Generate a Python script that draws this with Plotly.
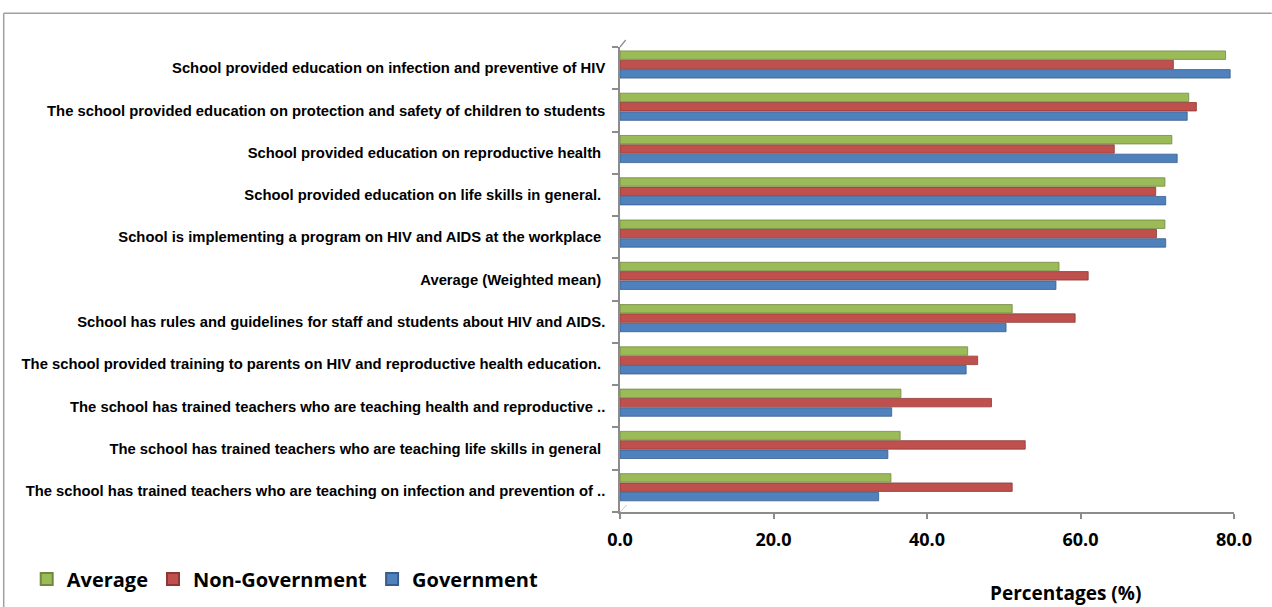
import plotly.graph_objects as go

# ---------------- data ----------------
categories = [
    "School provided education on infection and preventive of HIV",
    "The school provided education on protection and safety of children to students",
    "School provided education on reproductive health\u00a0",
    "School provided education on life skills in general.\u00a0",
    "School is implementing a program on HIV and AIDS at the workplace\u00a0",
    "Average (Weighted mean)\u00a0",
    "School has rules and guidelines for staff and students about HIV and AIDS.",
    "The school provided training to parents on HIV and reproductive health education.\u00a0",
    "The school has trained teachers who are teaching health and reproductive ..",
    "The school has trained teachers who are teaching life skills in general\u00a0",
    "The school has trained teachers who are teaching on infection and prevention of ..",
]
average = [78.9, 74.1, 71.9, 71.0, 71.0, 57.2, 51.1, 45.3, 36.6, 36.5, 35.3]
non_government = [72.1, 75.1, 64.4, 69.8, 69.9, 61.0, 59.3, 46.6, 48.4, 52.8, 51.1]
government = [79.5, 73.9, 72.6, 71.1, 71.1, 56.8, 50.3, 45.1, 35.4, 34.9, 33.7]
series_names = ["Government", "Non-Government", "Average"]
x_ticks = [0, 20, 40, 60, 80]
x_title = "Percentages (%)"

# ---------------- layout constants ----------------
W, H = 1272, 607
PL, PR, PT, PB = 620.3, 1234.3, 47.0, 512.0  # plot area in pixels


def px_x(px):
    return (px - PL) / (PR - PL)


def px_y(py):
    return (PB - py) / (PB - PT)


colors = {"Government": "#4F81BD", "Non-Government": "#C0504D", "Average": "#9BBB59"}
edges = {"Government": "#385D8A", "Non-Government": "#8C3836", "Average": "#71893F"}
offsets = {"Government": -0.235, "Non-Government": -0.013, "Average": 0.207}
values = {"Government": government, "Non-Government": non_government, "Average": average}

fig = go.Figure()
for name in series_names:
    fig.add_trace(go.Bar(
        name=name,
        y=categories,
        x=values[name],
        orientation="h",
        width=0.2,
        offset=offsets[name],
        marker=dict(color=colors[name], line=dict(color=edges[name], width=0.8)),
    ))

label_font = dict(family="Liberation Sans Narrow, Arial Narrow, Liberation Sans, Arial",
                  size=14.8, color="#000000", weight="bold")
num_font = dict(family="Open Sans, Lato, sans-serif", size=18, color="#000000", weight="bold")

fig.update_layout(
    width=W, height=H,
    margin=dict(l=PL, r=W - PR, t=PT, b=H - PB, pad=0, autoexpand=False),
    paper_bgcolor="white", plot_bgcolor="white",
    barmode="overlay",
    showlegend=True,
    legend=dict(
        orientation="h", traceorder="reversed",
        x=px_x(27), xanchor="left",
        y=px_y(579), yanchor="middle",
        font=dict(family="Open Sans, Lato, sans-serif", size=20, color="#000000", weight="bold"),
        bgcolor="rgba(0,0,0,0)",
        itemsizing="constant",
    ),
    xaxis=dict(
        range=[0, 80], tickvals=x_ticks, tickformat=".1f",
        showgrid=False, zeroline=False,
        showline=True, linecolor="#8C8C8C", linewidth=1.5,
        ticks="outside", ticklen=5, tickcolor="#8C8C8C", tickwidth=1.5,
        tickfont=num_font, ticklabelstandoff=6,
        fixedrange=True,
    ),
    yaxis=dict(
        type="category", categoryorder="array", categoryarray=categories[::-1],
        range=[-0.5, len(categories) - 0.5],
        showgrid=False, zeroline=False,
        showline=True, linecolor="#8C8C8C", linewidth=1.5,
        ticks="outside", ticklen=6, tickcolor="#8C8C8C", tickwidth=1.5,
        tickson="boundaries",
        tickfont=label_font, ticklabelstandoff=10,
        fixedrange=True,
    ),
    annotations=[dict(
        text=x_title, xref="paper", yref="paper",
        x=px_x(1066), y=px_y(593), xanchor="center", yanchor="middle",
        showarrow=False,
        font=dict(family="Open Sans, Lato, sans-serif", size=19, color="#000000", weight="bold"),
    )],
    shapes=[
        # outer chart border (top and left)
        dict(type="line", xref="paper", yref="paper",
             x0=px_x(4), y0=px_y(13.3), x1=px_x(1272), y1=px_y(13.3),
             line=dict(color="#A0A0A0", width=1.5)),
        dict(type="line", xref="paper", yref="paper",
             x0=px_x(4), y0=px_y(13.3), x1=px_x(4), y1=px_y(607),
             line=dict(color="#A0A0A0", width=1.5)),
        # 3D wall corner hints
        dict(type="line", xref="paper", yref="paper",
             x0=px_x(620.3), y0=px_y(47), x1=px_x(626), y1=px_y(40),
             line=dict(color="#8C8C8C", width=1.2)),
        dict(type="line", xref="paper", yref="paper",
             x0=px_x(620.3), y0=px_y(512), x1=px_x(627), y1=px_y(505),
             line=dict(color="#C8C8C8", width=1)),
    ],
)

# remove the default 8px page margin so the figure sits at the window origin
fig.write_html(
    "out.html",
    config={"displayModeBar": False},
    post_script="document.body.style.margin='0';document.body.style.overflow='hidden';",
)
